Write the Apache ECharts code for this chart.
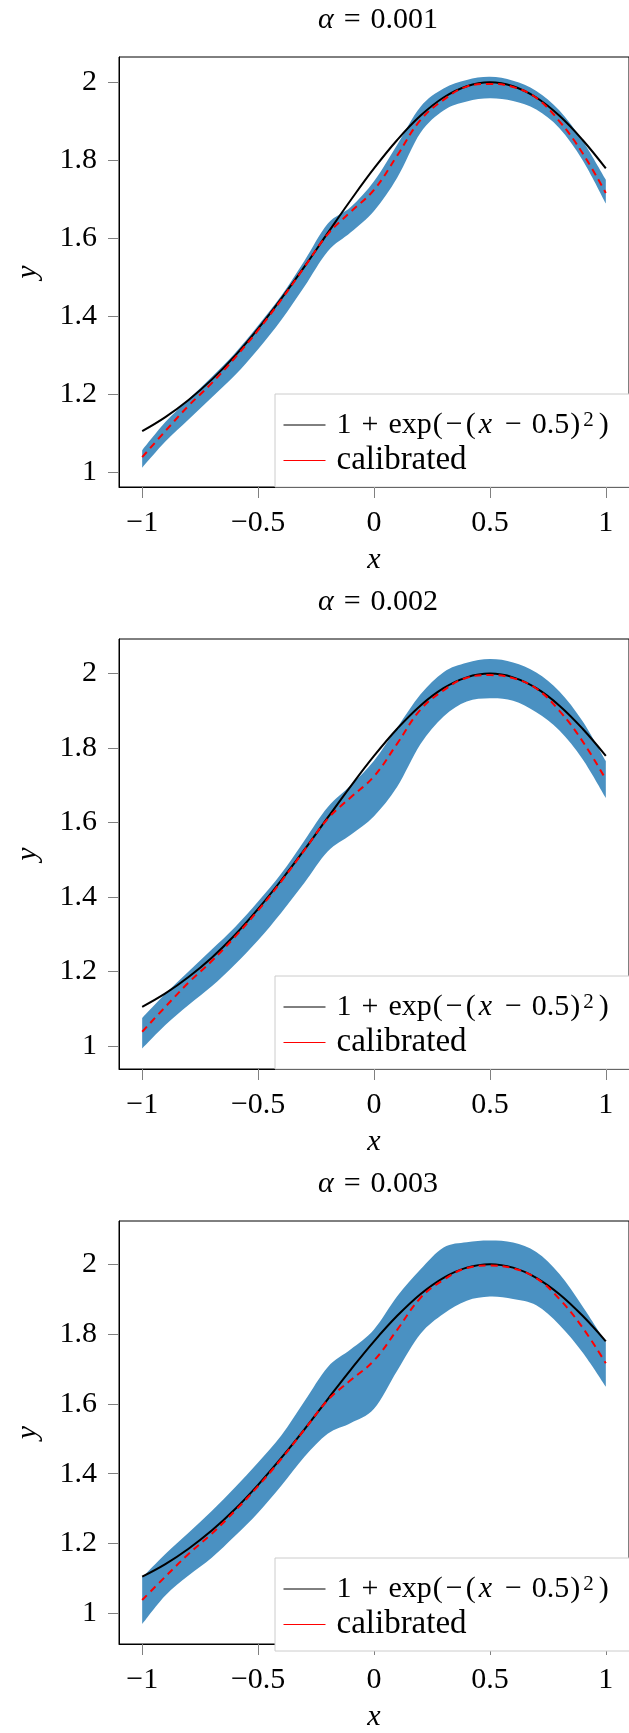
<!DOCTYPE html>
<html>
<head>
<meta charset="utf-8">
<script src="https://cdn.jsdelivr.net/npm/echarts@6/dist/echarts.min.js"></script>
<style>
html,body{margin:0;padding:0;background:#fff;}
#c{width:629px;height:1733px;}
</style>
</head>
<body>
<div id="c"></div>
<script>
// ---------- data ----------
const xs = [-1,-0.9,-0.8,-0.7,-0.6,-0.5,-0.4,-0.3,-0.2,-0.1,0,0.1,0.2,0.3,0.4,0.5,0.6,0.7,0.8,0.9,1];
const truth = [1.105,1.141,1.185,1.237,1.298,1.368,1.445,1.527,1.613,1.698,1.779,1.852,1.914,1.961,1.990,2.000,1.990,1.961,1.914,1.852,1.779];
const calibrated = [1.038,1.105,1.170,1.228,1.293,1.364,1.442,1.526,1.610,1.668,1.724,1.812,1.903,1.955,1.989,1.996,1.988,1.960,1.900,1.818,1.716];

const upper1 = [1.056,1.128,1.187,1.244,1.305,1.376,1.452,1.542,1.637,1.680,1.746,1.840,1.937,1.984,2.006,2.014,2.004,1.978,1.928,1.850,1.750];
const lower1 = [1.011,1.078,1.135,1.191,1.248,1.315,1.390,1.476,1.566,1.615,1.670,1.755,1.870,1.928,1.951,1.959,1.952,1.930,1.882,1.800,1.689];
const upper2 = [1.075,1.140,1.200,1.259,1.319,1.388,1.463,1.552,1.641,1.700,1.766,1.855,1.944,2.004,2.029,2.039,2.030,2.003,1.952,1.872,1.765];
const lower2 = [0.993,1.056,1.110,1.160,1.219,1.284,1.358,1.438,1.522,1.567,1.617,1.696,1.810,1.885,1.925,1.934,1.927,1.896,1.847,1.770,1.666];
const upper3 = [1.103,1.170,1.231,1.293,1.360,1.432,1.509,1.607,1.705,1.756,1.813,1.908,1.985,2.048,2.063,2.068,2.062,2.035,1.972,1.879,1.776];
const lower3 = [0.969,1.051,1.108,1.159,1.221,1.288,1.365,1.448,1.514,1.545,1.586,1.695,1.800,1.858,1.895,1.907,1.900,1.882,1.826,1.747,1.649];

const alphaLabels = ['0.001','0.002','0.003'];
const xTicks = [-1,-0.5,0,0.5,1];
const yTicks = [1,1.2,1.4,1.6,1.8,2];
const xRange = [-1.1, 1.1];
const yRanges = [[0.9615,2.065],[0.938,2.093],[0.912,2.1236]];
const legendNames = ['1 + exp(\u2212(x \u2212 0.5)\u00b2)', 'calibrated'];

// ---------- styling ----------
const FONT = 'Liberation Serif';
const BAND = '#4a91c2';
const uppers = [upper1, upper2, upper3];
const lowers = [lower1, lower2, lower3];
const tops = [57, 639, 1221];
const PLOT_LEFT = 119, PLOT_W = 519, PLOT_H = 430;
const SMOOTH = 0.4;

const fmt = v => (v < 0 ? '\u2212' + Math.abs(v) : String(v));
const baseText = {fontFamily: FONT, fontSize: 30, fontWeight: 'normal', color: '#000', lineHeight: 30};
const italic = Object.assign({}, baseText, {fontStyle: 'italic'});

// smooth path through pixel points (Catmull-Rom as cubic Bezier segments)
function curveTo(pts) {
  let d = '';
  for (let k = 0; k < pts.length - 1; k++) {
    const p0 = pts[Math.max(k - 1, 0)], p1 = pts[k], p2 = pts[k + 1], p3 = pts[Math.min(k + 2, pts.length - 1)];
    const c1 = [p1[0] + (p2[0] - p0[0]) / 6, p1[1] + (p2[1] - p0[1]) / 6];
    const c2 = [p2[0] - (p3[0] - p1[0]) / 6, p2[1] - (p3[1] - p1[1]) / 6];
    d += ' C' + c1[0] + ' ' + c1[1] + ' ' + c2[0] + ' ' + c2[1] + ' ' + p2[0] + ' ' + p2[1];
  }
  return d;
}

const grids = [], xAxes = [], yAxes = [], series = [], titles = [], legends = [];

for (let i = 0; i < 3; i++) {
  grids.push({left: PLOT_LEFT, top: tops[i], width: PLOT_W, height: PLOT_H,
    show: true, borderColor: '#000', borderWidth: 1, backgroundColor: 'transparent'});

  xAxes.push({type: 'value', gridIndex: i, min: xRange[0], max: xRange[1],
    splitLine: {show: false},
    axisLine: {show: true, onZero: false, lineStyle: {color: '#000', width: 1}},
    axisTick: {show: true, inside: false, length: 11, customValues: xTicks, lineStyle: {color: '#808080', width: 1}},
    axisLabel: {customValues: xTicks, formatter: fmt, fontFamily: FONT, fontSize: 30, color: '#000', margin: 21},
    name: 'x', nameLocation: 'middle', nameGap: 58,
    nameTextStyle: {fontFamily: FONT, fontStyle: 'italic', fontSize: 30, color: '#000'}
  });

  yAxes.push({type: 'value', gridIndex: i, min: yRanges[i][0], max: yRanges[i][1],
    splitLine: {show: false},
    axisLine: {show: true, onZero: false, lineStyle: {color: '#000', width: 1}},
    axisTick: {show: true, inside: false, length: 11, customValues: yTicks, lineStyle: {color: '#808080', width: 1}},
    axisLabel: {customValues: yTicks, formatter: fmt, fontFamily: FONT, fontSize: 30, color: '#000', margin: 22},
    name: 'y', nameLocation: 'middle', nameGap: 76, nameRotate: 90,
    nameTextStyle: {fontFamily: FONT, fontStyle: 'italic', fontSize: 30, color: '#000'}
  });

  const lo = lowers[i], up = uppers[i];
  series.push({type: 'custom', name: 'band-' + i, xAxisIndex: i, yAxisIndex: i,
    coordinateSystem: 'cartesian2d', silent: true, z: 1, clip: true,
    data: [[xs[0], lo[0]]],
    renderItem: (params, api) => {
      const upPts = xs.map((x, k) => api.coord([x, up[k]]));
      const loPts = xs.map((x, k) => api.coord([x, lo[k]])).reverse();
      const d = 'M' + upPts[0][0] + ' ' + upPts[0][1] + curveTo(upPts) +
                ' L' + loPts[0][0] + ' ' + loPts[0][1] + curveTo(loPts) + ' Z';
      return {type: 'path', shape: {pathData: d}, style: {fill: BAND, stroke: null}};
    }
  });
  series.push({type: 'line', name: legendNames[0], xAxisIndex: i, yAxisIndex: i,
    data: xs.map((x, k) => [x, truth[k]]), smooth: SMOOTH, symbol: 'none',
    itemStyle: {color: '#000'}, lineStyle: {color: '#000', width: 2}, z: 3});
  series.push({type: 'line', name: legendNames[1], xAxisIndex: i, yAxisIndex: i,
    data: xs.map((x, k) => [x, calibrated[k]]), smooth: SMOOTH, symbol: 'none',
    itemStyle: {color: '#ff0000'}, lineStyle: {color: '#ff0000', width: 2, type: [7, 5]}, z: 4});

  titles.push({text: '{i|\u03b1}{e|=}{t|' + alphaLabels[i] + '}', left: 378, top: tops[i] - 52, textAlign: 'center', padding: 0,
    textStyle: {fontWeight: 'normal', rich: {
      i: italic,
      e: Object.assign({}, baseText, {padding: [0, 10, 0, 10]}),
      t: baseText
    }}});

  legends.push({show: true, orient: 'vertical', left: 275, top: tops[i] + 337,
    itemWidth: 42, itemHeight: 2, itemGap: 4, padding: [16, 60, 10, 8],
    backgroundColor: '#fff', borderColor: '#cccccc', borderWidth: 1, borderRadius: 0,
    selectedMode: false, data: legendNames,
    itemStyle: {opacity: 0},
    lineStyle: {width: 1, type: 'solid'},
    formatter: name => name === legendNames[0]
      ? '{g|}{t|1}{op|+}{t|exp}{p|(}{u|\u2212}{p|(}{i|x}{op|\u2212}{t|0.5}{p|)}{s|2}{p|)}'
      : '{g|}{c|calibrated}',
    textStyle: {fontFamily: FONT, fontSize: 30, color: '#000', rich: {
      g: {width: 6},
      t: baseText,
      c: Object.assign({}, baseText, {fontSize: 33}),
      p: Object.assign({}, baseText, {padding: [0, 1, 0, 1]}),
      i: Object.assign({}, italic, {padding: [0, 3, 0, 2]}),
      op: Object.assign({}, baseText, {padding: [0, 10, 0, 10]}),
      u: Object.assign({}, baseText, {padding: [0, 2, 0, 2]}),
      s: {fontFamily: FONT, fontSize: 21, color: '#000', lineHeight: 16, verticalAlign: 'top', padding: [0, 4, 0, 2]}
    }}
  });
}

const chart = echarts.init(document.getElementById('c'), null, {renderer: 'canvas'});
chart.setOption({
  animation: false,
  backgroundColor: '#fff',
  title: titles,
  legend: legends,
  grid: grids,
  xAxis: xAxes,
  yAxis: yAxes,
  series: series
});
</script>
</body>
</html>
